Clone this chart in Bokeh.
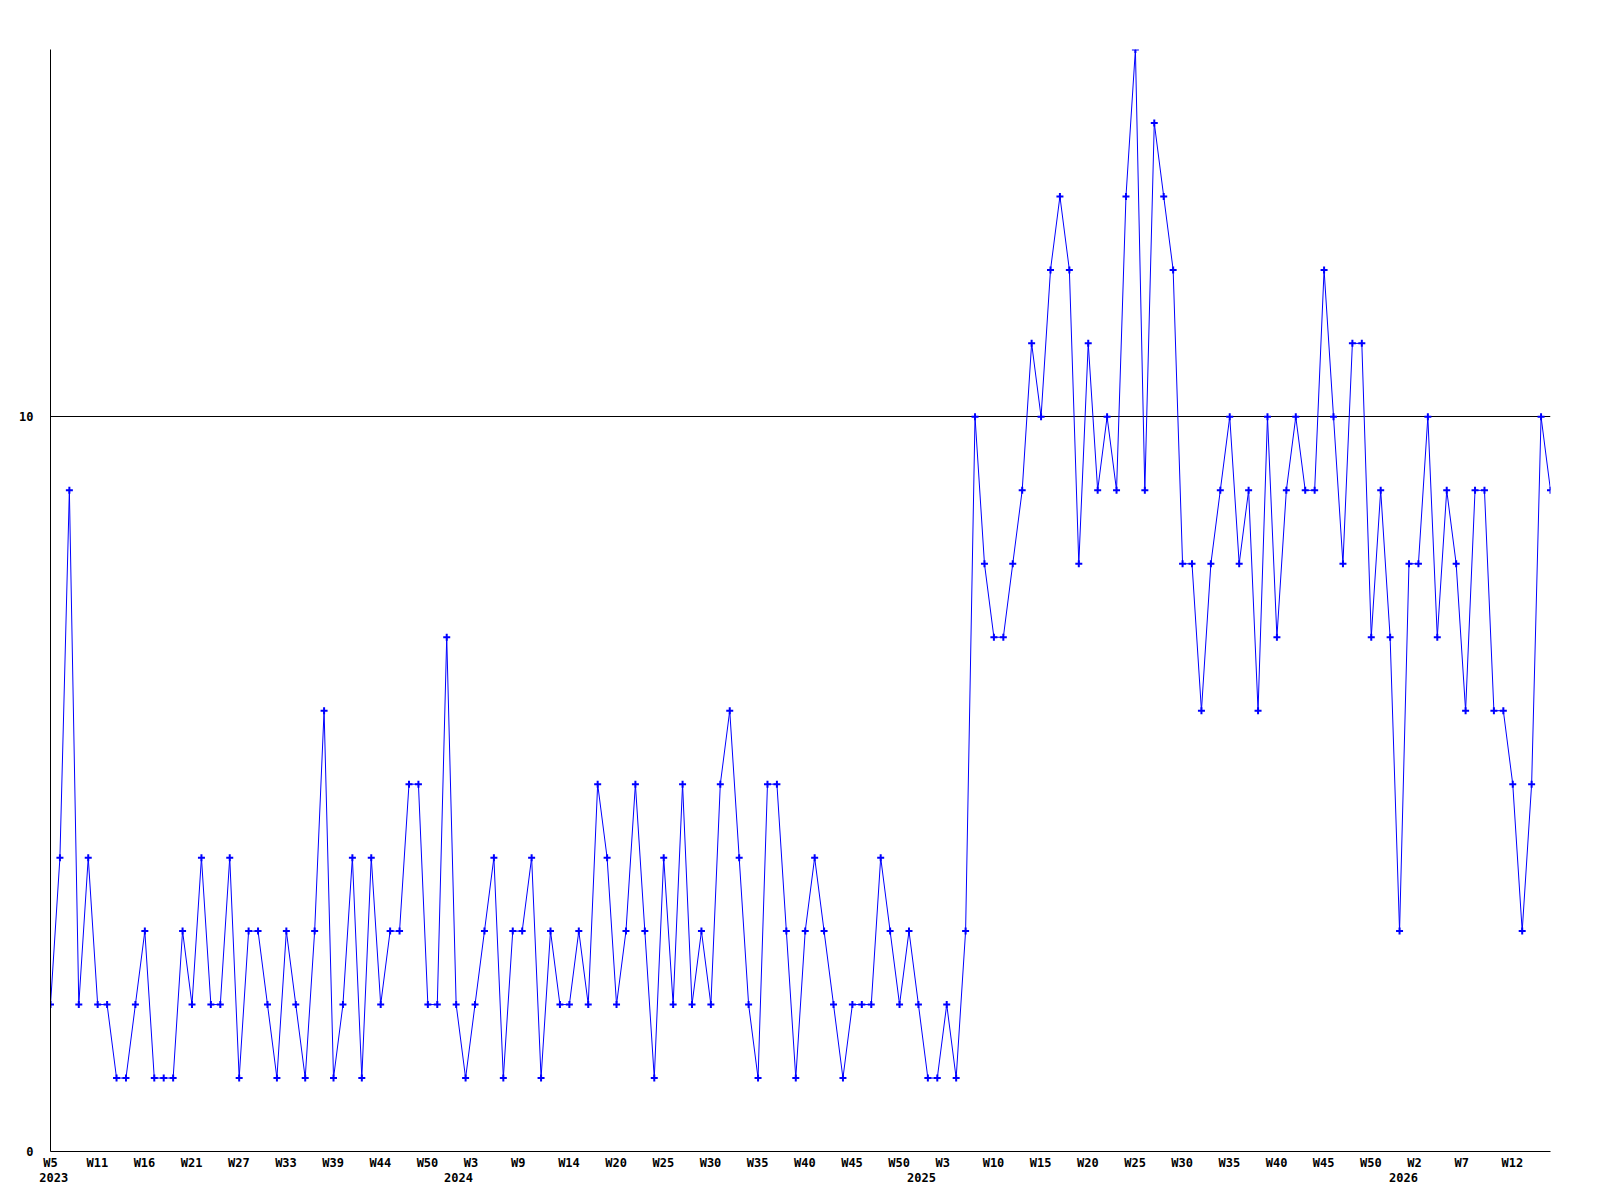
from bokeh.plotting import figure
from bokeh.models import FixedTicker, LinearAxis, Range1d, ColumnDataSource
from bokeh.embed import file_html
from bokeh.resources import INLINE

# ---- data -------------------------------------------------------------
values = [
    2, 4, 9, 2, 4, 2, 2, 1, 1, 2,
    3, 1, 1, 1, 3, 2, 4, 2, 2, 4,
    1, 3, 3, 2, 1, 3, 2, 1, 3, 6,
    1, 2, 4, 1, 4, 2, 3, 3, 5, 5,
    2, 2, 7, 2, 1, 2, 3, 4, 1, 3,
    3, 4, 1, 3, 2, 2, 3, 2, 5, 4,
    2, 3, 5, 3, 1, 4, 2, 5, 2, 3,
    2, 5, 6, 4, 2, 1, 5, 5, 3, 1,
    3, 4, 3, 2, 1, 2, 2, 2, 4, 3,
    2, 3, 2, 1, 1, 2, 1, 3, 10, 8,
    7, 7, 8, 9, 11, 10, 12, 13, 12, 8,
    11, 9, 10, 9, 13, 15, 9, 14, 13, 12,
    8, 8, 6, 8, 9, 10, 8, 9, 6, 10,
    7, 9, 10, 9, 9, 12, 10, 8, 11, 11,
    7, 9, 7, 3, 8, 8, 10, 7, 9, 8,
    6, 9, 9, 6, 6, 5, 3, 5, 10, 9,
]
week_labels = ["W5", "W11", "W16", "W21", "W27", "W33", "W39", "W44", "W50",
               "W3", "W9", "W14", "W20", "W25", "W30", "W35", "W40", "W45", "W50",
               "W3", "W10", "W15", "W20", "W25", "W30", "W35", "W40", "W45", "W50",
               "W2", "W7", "W12"]
year_labels = ["2023", "2024", "2025", "2026"]
year_start = [-1.18, 41.73, 90.8, 141.9]   # where each year label begins (point index)
y_ticks = [0, 10]
y_max = 15

# ---- layout helpers ----------------------------------------------------
TICK_EVERY = 5          # one week label every 5 points
LABEL_SHIFT = -1.18     # label left edge relative to its point
HALF_CHAR = 0.38        # half a character width in point units

idx = list(range(len(values)))
week_ticks = [max(0.0, TICK_EVERY * k + LABEL_SHIFT + HALF_CHAR * len(l))
              for k, l in enumerate(week_labels)]
year_ticks = [s + HALF_CHAR * len(l) for s, l in zip(year_start, year_labels)]

FONT = "DejaVu Sans Mono"

p = figure(width=1592, height=1194, output_backend="svg", toolbar_location=None,
           x_range=Range1d(0, len(values) - 1), y_range=Range1d(0, y_max),
           min_border_left=50, min_border_right=42, min_border_top=49, min_border_bottom=43)
p.outline_line_color = None
p.background_fill_color = "white"
p.border_fill_color = "white"

src = ColumnDataSource(dict(x=idx, y=values))
p.line("x", "y", source=src, line_color="#0000ff", line_width=1)
p.scatter("x", "y", source=src, marker="cross", size=7, line_color="#0000ff", line_width=2)

# y axis
p.yaxis.ticker = FixedTicker(ticks=y_ticks)
p.yaxis.major_tick_line_color = None
p.yaxis.minor_tick_line_color = None
p.yaxis.major_tick_out = 0
p.yaxis.major_label_standoff = 17
p.yaxis.axis_line_color = "black"
p.yaxis.major_label_text_font = FONT
p.yaxis.major_label_text_font_style = "bold"
p.yaxis.major_label_text_font_size = "12px"
p.yaxis.major_label_text_color = "black"

p.ygrid.ticker = FixedTicker(ticks=y_ticks)
p.ygrid.grid_line_color = "black"
p.ygrid.grid_line_width = 1
p.xgrid.grid_line_color = None

# x axis: week labels
p.xaxis.ticker = FixedTicker(ticks=week_ticks)
p.xaxis.major_label_overrides = {t: l for t, l in zip(week_ticks, week_labels)}
p.xaxis.major_tick_line_color = None
p.xaxis.minor_tick_line_color = None
p.xaxis.major_tick_out = 0
p.xaxis.major_label_standoff = 4
p.xaxis.axis_line_color = "black"
p.xaxis.major_label_text_font = FONT
p.xaxis.major_label_text_font_style = "bold"
p.xaxis.major_label_text_font_size = "12px"
p.xaxis.major_label_text_color = "black"

# second x axis: years
yax = LinearAxis(ticker=FixedTicker(ticks=year_ticks),
                 major_label_overrides={t: l for t, l in zip(year_ticks, year_labels)})
yax.axis_line_color = None
yax.major_tick_line_color = None
yax.minor_tick_line_color = None
yax.major_tick_out = 0
yax.major_label_standoff = 0
yax.major_label_text_font = FONT
yax.major_label_text_font_style = "bold"
yax.major_label_text_font_size = "12px"
yax.major_label_text_color = "black"
p.add_layout(yax, "below")

open("out.html", "w").write(file_html(p, INLINE))
